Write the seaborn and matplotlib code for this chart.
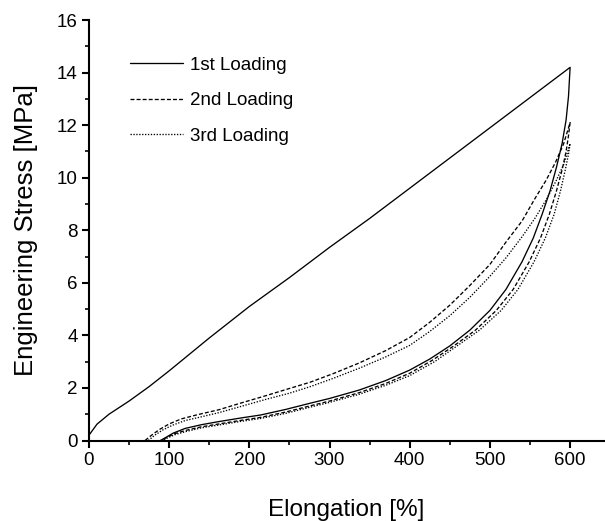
import matplotlib
matplotlib.use("Agg")
import matplotlib.pyplot as plt
from matplotlib.ticker import MultipleLocator
import seaborn as sns
import pandas as pd

# Cyclic tensile test: each cycle = loading branch followed by unloading branch
load1_x = [0, 10, 25, 50, 75, 100, 150, 200, 250, 300, 350, 400, 450, 500, 550, 600]
load1_y = [0.2, 0.62, 1.0, 1.5, 2.05, 2.65, 3.9, 5.1, 6.2, 7.35, 8.45, 9.6, 10.75, 11.9, 13.05, 14.2]
unload1_x = [598, 595, 590, 583, 575, 565, 554, 540, 520, 500, 475, 450, 425, 400, 370, 337,
             300, 276, 245, 214, 190, 162, 140, 120, 105, 95, 89]
unload1_y = [13.1, 12.2, 11.3, 10.4, 9.5, 8.6, 7.7, 6.8, 5.75, 4.95, 4.2, 3.6, 3.1, 2.68, 2.28, 1.92,
             1.6, 1.42, 1.18, 0.97, 0.86, 0.72, 0.6, 0.46, 0.28, 0.1, 0.0]

load2_x = [70, 78, 88, 100, 115, 135, 162, 190, 220, 250, 276, 305, 337, 370, 400, 425, 450,
           475, 500, 520, 540, 556, 570, 582, 592, 600]
load2_y = [0.0, 0.2, 0.42, 0.63, 0.82, 0.98, 1.17, 1.43, 1.7, 1.98, 2.22, 2.55, 2.95, 3.42, 3.92,
           4.5, 5.15, 5.9, 6.7, 7.55, 8.35, 9.2, 9.9, 10.6, 11.3, 12.1]
unload2_x = [598, 595, 590, 583, 574, 563, 549, 529, 508, 482, 455, 428, 400, 370, 337, 300,
             276, 245, 214, 190, 162, 140, 120, 106, 96, 90]
unload2_y = [11.6, 11.0, 10.3, 9.5, 8.6, 7.7, 6.8, 5.75, 4.95, 4.2, 3.6, 3.05, 2.56, 2.17, 1.82, 1.5,
             1.32, 1.08, 0.88, 0.77, 0.63, 0.52, 0.38, 0.25, 0.1, 0.0]

load3_x = [74, 82, 92, 104, 120, 140, 162, 190, 220, 250, 276, 305, 337, 370, 400, 425, 450,
           475, 500, 520, 540, 556, 570, 582, 592, 600]
load3_y = [0.0, 0.2, 0.4, 0.58, 0.76, 0.9, 1.06, 1.3, 1.56, 1.8, 2.05, 2.37, 2.75, 3.18, 3.62,
           4.15, 4.75, 5.45, 6.25, 6.95, 7.75, 8.45, 9.15, 9.85, 10.5, 11.3]
unload3_x = [598, 594, 588, 580, 569, 555, 535, 514, 487, 459, 431, 400, 370, 337, 300, 276,
             245, 214, 190, 162, 140, 122, 108, 98, 92]
unload3_y = [10.9, 10.3, 9.5, 8.6, 7.7, 6.8, 5.75, 4.95, 4.2, 3.6, 3.0, 2.47, 2.1, 1.76, 1.45,
             1.27, 1.03, 0.84, 0.73, 0.59, 0.48, 0.35, 0.23, 0.1, 0.0]

labels = ["1st Loading", "2nd Loading", "3rd Loading"]

frames = []
for lab, lx, ly, ux, uy in [
    (labels[0], load1_x, load1_y, unload1_x, unload1_y),
    (labels[1], load2_x, load2_y, unload2_x, unload2_y),
    (labels[2], load3_x, load3_y, unload3_x, unload3_y),
]:
    frames.append(pd.DataFrame({"elong": lx + ux, "stress": ly + uy, "cycle": lab}))
df = pd.concat(frames, ignore_index=True)

sns.set_theme(style="ticks")
plt.rcParams["font.family"] = ["Liberation Sans", "DejaVu Sans"]
plt.rcParams["text.color"] = "black"
plt.rcParams["axes.labelcolor"] = "black"

fig = plt.figure(figsize=(6.05, 5.21), dpi=100)
ax = fig.add_axes([0.147, 0.1545, 0.851, 0.807])

styles = {labels[0]: "-", labels[1]: (0, (3, 1.6)), labels[2]: (0, (1, 1.2))}
for lab in labels:
    sub = df[df["cycle"] == lab]
    sns.lineplot(data=sub, x="elong", y="stress", sort=False, estimator=None,
                 color="black", linewidth=0.95, linestyle=styles[lab], label=lab, ax=ax)

ax.set_xlim(0, 642)
ax.set_ylim(0, 16)
ax.xaxis.set_major_locator(MultipleLocator(100))
ax.xaxis.set_minor_locator(MultipleLocator(50))
ax.yaxis.set_major_locator(MultipleLocator(2))
ax.yaxis.set_minor_locator(MultipleLocator(1))
ax.set_xticks(range(0, 601, 100))

for s in ["top", "right"]:
    ax.spines[s].set_visible(False)
for s in ["left", "bottom"]:
    ax.spines[s].set_linewidth(1.5)
    ax.spines[s].set_color("black")

ax.tick_params(which="major", direction="out", length=5, width=1.5, labelsize=13.5, colors="black", pad=3)
ax.tick_params(which="minor", direction="out", length=3, width=1.2, colors="black")

ax.set_xlabel("Elongation [%]", fontsize=17.5, labelpad=22, color="black")
ax.set_ylabel("Engineering Stress [MPa]", fontsize=18.5, labelpad=14, color="black")

leg = ax.legend(loc="upper left", bbox_to_anchor=(130 / 605, 1 - 56.5 / 521), bbox_transform=fig.transFigure,
                frameon=False, fontsize=13.5, handlelength=2.85, handletextpad=0.37,
                labelspacing=0.98, borderpad=0, borderaxespad=0)
for t in leg.get_texts():
    t.set_color("black")

fig.savefig("out.png", dpi=100)
